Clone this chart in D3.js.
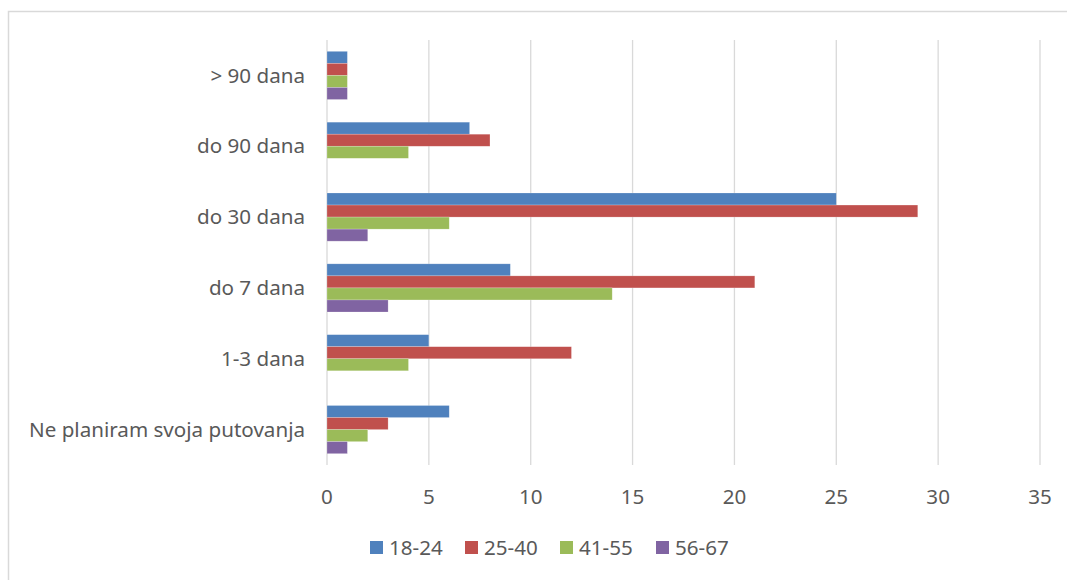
<!DOCTYPE html>
<html>
<head>
<meta charset="utf-8">
<script src="https://cdn.jsdelivr.net/npm/d3@7"></script>
<style>
  body { margin: 0; background: #fff; }
  text { font-family: "Noto Sans", "Open Sans", sans-serif; fill: #595959; }
</style>
</head>
<body>
<svg id="chart" width="1067" height="580"></svg>
<script>
// categories top to bottom, as in the picture
const categories = ["> 90 dana", "do 90 dana", "do 30 dana", "do 7 dana", "1-3 dana", "Ne planiram svoja putovanja"];
const seriesNames = ["18-24", "25-40", "41-55", "56-67"];
const s1824 = [1, 7, 25, 9, 5, 6];
const s2540 = [1, 8, 29, 21, 12, 3];
const s4155 = [1, 4, 6, 14, 4, 2];
const s5667 = [1, 0, 2, 3, 0, 1];
const xTicks = [0, 5, 10, 15, 20, 25, 30, 35];
const colors = ["#4F81BD", "#C0504D", "#9BBB59", "#8064A2"];

const seriesValues = [s1824, s2540, s4155, s5667];

const svg = d3.select("#chart");

// chart border (only top/left visible in the frame)
svg.append("rect")
  .attr("x", 8.5).attr("y", 11.5)
  .attr("width", 1100).attr("height", 600)
  .attr("fill", "none")
  .attr("stroke", "#d9d9d9")
  .attr("stroke-width", 1.5);

const margin = { left: 327, right: 27, top: 40, bottom: 115 };
const width = 1067, height = 580;
const fontSize = 20.6;

const x = d3.scaleLinear()
  .domain([0, 35])
  .range([margin.left, width - margin.right]);

const y = d3.scaleBand()
  .domain(categories)
  .range([margin.top, height - margin.bottom])
  .paddingInner(0.32)
  .paddingOuter(0.16);

const yInner = d3.scaleBand()
  .domain(seriesNames)
  .range([0, y.bandwidth()]);

// gridlines
svg.append("g")
  .selectAll("line")
  .data(xTicks)
  .join("line")
  .attr("x1", d => x(d)).attr("x2", d => x(d))
  .attr("y1", margin.top).attr("y2", height - margin.bottom)
  .attr("stroke", "#d9d9d9")
  .attr("stroke-width", 1.3);

// x tick labels
svg.append("g")
  .selectAll("text")
  .data(xTicks)
  .join("text")
  .attr("x", d => x(d))
  .attr("y", 504)
  .attr("text-anchor", "middle")
  .attr("font-size", fontSize)
  .text(d => d);

// category labels
svg.append("g")
  .selectAll("text")
  .data(categories)
  .join("text")
  .attr("x", margin.left - 22)
  .attr("y", d => y(d) + y.bandwidth() / 2)
  .attr("dy", "0.35em")
  .attr("text-anchor", "end")
  .attr("font-size", fontSize)
  .text(d => d);

// bars
const groups = svg.append("g")
  .selectAll("g")
  .data(seriesNames)
  .join("g")
  .attr("fill", (d, i) => colors[i]);

groups.selectAll("rect")
  .data((s, i) => categories.map((c, j) => ({ cat: c, series: s, value: seriesValues[i][j] })))
  .join("rect")
  .filter(d => d.value > 0)
  .attr("x", x(0))
  .attr("y", d => y(d.cat) + yInner(d.series))
  .attr("width", d => x(d.value) - x(0))
  .attr("height", yInner.bandwidth())
  .attr("stroke", "#ffffff")
  .attr("stroke-opacity", 0.35)
  .attr("stroke-width", 0.6);

// legend
const legendX = [370, 465, 560, 656];
const legend = svg.append("g")
  .selectAll("g")
  .data(seriesNames)
  .join("g")
  .attr("transform", (d, i) => `translate(${legendX[i]},541)`);

legend.append("rect")
  .attr("width", 13).attr("height", 13)
  .attr("fill", (d, i) => colors[i]);

legend.append("text")
  .attr("x", 19)
  .attr("y", 6.5)
  .attr("dy", "0.35em")
  .attr("font-size", fontSize)
  .text(d => d);
</script>
</body>
</html>
